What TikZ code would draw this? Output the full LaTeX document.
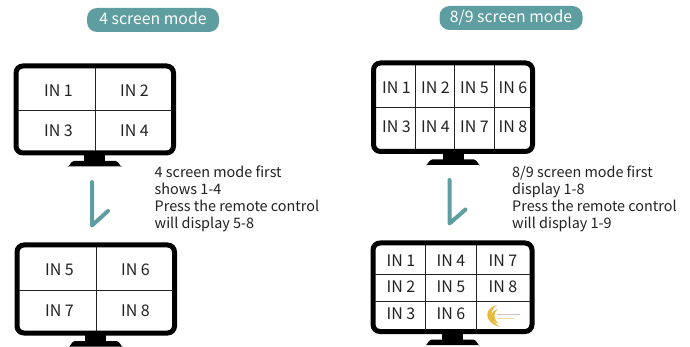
\documentclass[tikz,border=0pt]{standalone}
\usepackage{fontspec}
\setmainfont{Noto Sans CJK SC}
\definecolor{teal1}{HTML}{5F9EA0}
\definecolor{ink}{HTML}{222222}
\definecolor{gold}{HTML}{E8B83A}
\tikzset{
  x=1pt,y=-1pt,
  frame/.style={draw=black,line width=5pt,rounded corners=7pt,fill=white},
  grid/.style={draw=ink,line width=1pt},
  stand/.style={fill=black,draw=none},
  pill/.style={fill=teal1,text=white,rounded corners=10pt,font=\fontsize{15.8}{18}\selectfont,inner sep=0pt,minimum height=24pt,text height=12pt,text depth=2pt},
  cell/.style={text=ink,font=\fontsize{16}{18}\selectfont,inner sep=0pt},
  note/.style={text=ink,font=\fontsize{14.4}{17}\selectfont,align=left,anchor=north west,inner sep=0pt},
  turn/.style={draw=teal1,line width=4pt,line cap=round,line join=round}
}
\newcommand{\monitor}[4]{% x0,y0,x1,y1
  \pgfmathsetmacro{\mcx}{(#1+#3)/2}
  \pgfmathsetmacro{\mnl}{\mcx-10.5}
  \pgfmathsetmacro{\mnr}{\mcx+10.5}
  \pgfmathsetmacro{\mbl}{\mcx-27}
  \pgfmathsetmacro{\mbr}{\mcx+27}
  \pgfmathsetmacro{\mtl}{\mcx-21}
  \pgfmathsetmacro{\mtr}{\mcx+21}
  \pgfmathsetmacro{\myA}{#4+9}
  \pgfmathsetmacro{\myB}{#4+13.5}
  \pgfmathsetmacro{\myC}{#4+8}
  \fill[stand] (\mnl,#4) rectangle (\mnr,\myA);
  \fill[stand] (\mbl,\myB) to[out=-90,in=180] (\mtl,\myC) -- (\mtr,\myC) to[out=0,in=-90] (\mbr,\myB) -- cycle;
  \draw[frame] (#1,#2) rectangle (#3,#4);
}
\begin{document}
\begin{tikzpicture}
\useasboundingbox (0,0) rectangle (690,347);
\fill[white] (0,0) rectangle (690,347);

\node[pill,minimum width=132pt] (p1) at (153,20) {4 screen mode};
\node[pill,minimum width=143pt] (p2) at (511,18) {8/9 screen mode};

% monitor 1
\monitor{16}{66}{173.5}{153}
\draw[grid] (95.5,68) -- (95.5,151) (18,111) -- (172,111);
\node[cell] (a1) at (58.5,90.5) {IN 1};
\node[cell] (a2) at (134.5,90.5) {IN 2};
\node[cell] (a3) at (58.5,130.5) {IN 3};
\node[cell] (a4) at (134.5,130.5) {IN 4};

% monitor 2
\monitor{17}{245}{174.5}{333}
\draw[grid] (96.5,247) -- (96.5,331) (19,290.5) -- (173,290.5);
\node[cell] (b1) at (59.5,270) {IN 5};
\node[cell] (b2) at (135.5,270) {IN 6};
\node[cell] (b3) at (59.5,310.5) {IN 7};
\node[cell] (b4) at (135.5,310.5) {IN 8};

% monitor 3
\monitor{373.5}{63}{532.5}{151.5}
\draw[grid] (415,65) -- (415,149.5) (454.5,65) -- (454.5,149.5) (494,65) -- (494,149.5) (376,107.5) -- (530,107.5);
\node[cell] (c1) at (396.5,88) {IN 1};
\node[cell] (c2) at (435.5,88) {IN 2};
\node[cell] (c3) at (474.5,88) {IN 5};
\node[cell] (c4) at (513,88) {IN 6};
\node[cell] (c5) at (396.5,127) {IN 3};
\node[cell] (c6) at (435.5,127) {IN 4};
\node[cell] (c7) at (474.5,127) {IN 7};
\node[cell] (c8) at (513,127) {IN 8};

% monitor 4
\monitor{373}{243}{532}{331.5}
\draw[grid] (425,245) -- (425,329.5) (476.5,245) -- (476.5,329.5) (375,274.5) -- (530,274.5) (375,301) -- (530,301);
\node[cell] (d1) at (401,261) {IN 1};
\node[cell] (d2) at (451,261) {IN 4};
\node[cell] (d3) at (503,261) {IN 7};
\node[cell] (d4) at (401,287) {IN 2};
\node[cell] (d5) at (451,287) {IN 5};
\node[cell] (d6) at (503,287) {IN 8};
\node[cell] (d7) at (401,314) {IN 3};
\node[cell] (d8) at (451,314) {IN 6};

% logo in the ninth cell
\fill[gold] (497,305) .. controls (484,308) and (483,322) .. (500,327) .. controls (491,321) and (488,311) .. (497,305) -- cycle;
\fill[gold] (498,309) .. controls (489,312) and (489,320) .. (499,324) .. controls (493,319) and (493,313) .. (498,309) -- cycle;
\draw[gold!45!black!35,line width=.7pt] (497,314) -- (520,314);
\draw[gold!55,line width=.7pt] (497,318) -- (514,318);

% turn marks
\coordinate (t1a) at (92,182);
\coordinate (t1b) at (92,225.5);
\coordinate (t1c) at (108,211);
\draw[turn] (t1a) -- (t1b) -- (t1c);
\coordinate (t2a) at (449.5,180);
\coordinate (t2b) at (449.5,223.5);
\coordinate (t2c) at (465.5,209.5);
\draw[turn] (t2a) -- (t2b) -- (t2c);

\node[note] (n1) at (154.5,166) {4 screen mode first\\shows 1-4\\Press the remote control\\will display 5-8};
\node[note] (n2) at (512,166) {8/9 screen mode first\\display 1-8\\Press the remote control\\will display 1-9};
\end{tikzpicture}
\end{document}
